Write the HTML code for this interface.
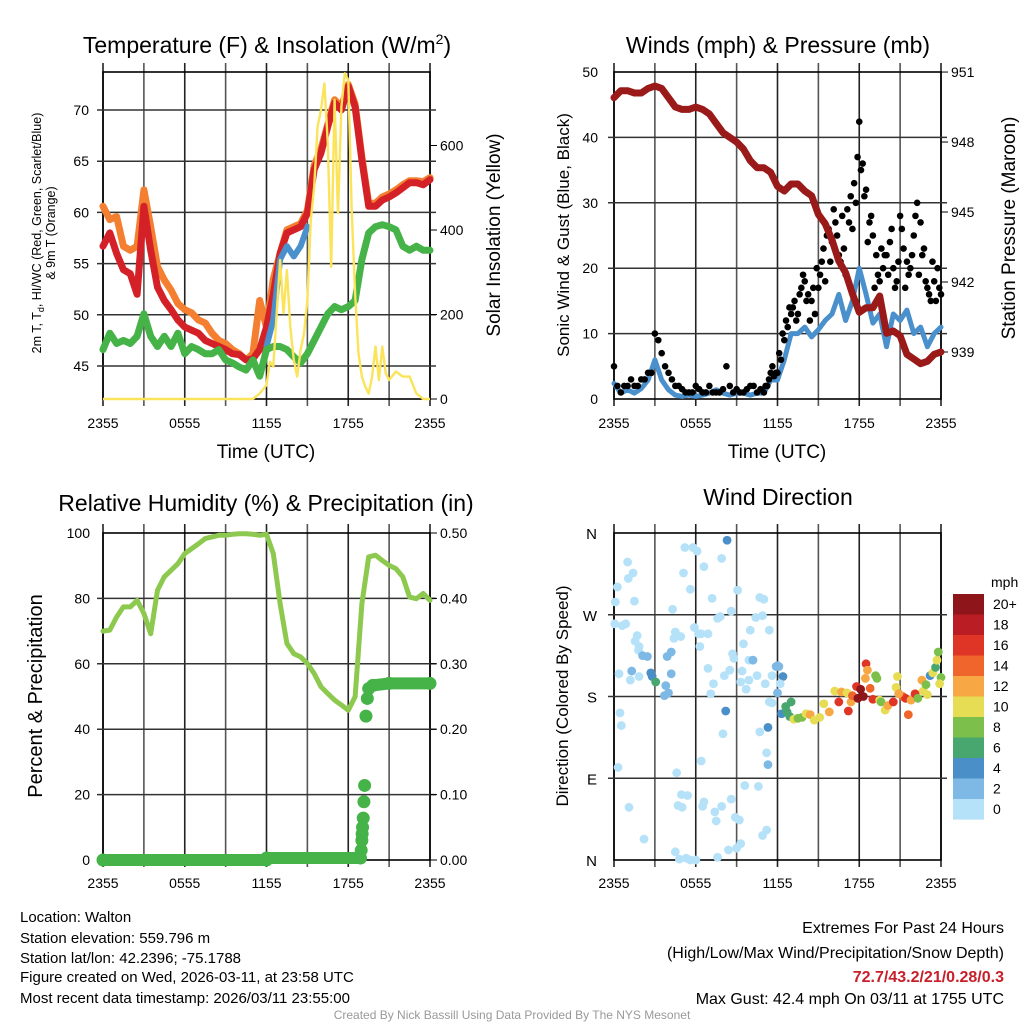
<!DOCTYPE html>
<html><head><meta charset="utf-8"><title>Walton Mesonet</title>
<style>
html,body{margin:0;padding:0;background:#fff;}
svg{display:block;font-family:"Liberation Sans",Arial,sans-serif;}
</style></head>
<body>
<svg id="fig" width="1024" height="1024" viewBox="0 0 1024 1024" xmlns="http://www.w3.org/2000/svg">
<rect width="1024" height="1024" fill="#fff"/>
<text x="267" y="53" font-size="23" text-anchor="middle">Temperature (F) &amp; Insolation (W/m<tspan dy="-9" font-size="14">2</tspan><tspan dy="9">)</tspan></text>
<text x="778" y="53" font-size="23" text-anchor="middle">Winds (mph) &amp; Pressure (mb)</text>
<text x="266" y="511" font-size="23" text-anchor="middle">Relative Humidity (%) &amp; Precipitation (in)</text>
<text x="778" y="505" font-size="23" text-anchor="middle">Wind Direction</text>
<text x="266" y="458" font-size="19" text-anchor="middle">Time (UTC)</text>
<text x="777" y="458" font-size="19" text-anchor="middle">Time (UTC)</text>
<text transform="translate(41,233) rotate(-90)" font-size="12.5" text-anchor="middle">2m T, T<tspan dy="3" font-size="9">d</tspan><tspan dy="-3">, HI/WC (Red, Green, Scarlet/Blue)</tspan></text>
<text transform="translate(55,233) rotate(-90)" font-size="12.5" text-anchor="middle">&amp; 9m T (Orange)</text>
<text transform="translate(500,235) rotate(-90)" font-size="19" text-anchor="middle">Solar Insolation (Yellow)</text>
<text transform="translate(569,235) rotate(-90)" font-size="17" text-anchor="middle">Sonic Wind &amp; Gust (Blue, Black)</text>
<text transform="translate(1015,228) rotate(-90)" font-size="19" text-anchor="middle">Station Pressure (Maroon)</text>
<text transform="translate(42,696) rotate(-90)" font-size="20" text-anchor="middle">Percent &amp; Precipitation</text>
<text transform="translate(568,696) rotate(-90)" font-size="17" text-anchor="middle">Direction (Colored By Speed)</text>
<g font-size="15">
<text x="20" y="922">Location: Walton</text>
<text x="20" y="943">Station elevation: 559.796 m</text>
<text x="20" y="963">Station lat/lon: 42.2396; -75.1788</text>
<text x="20" y="982">Figure created on Wed, 2026-03-11, at 23:58 UTC</text>
<text x="20" y="1003">Most recent data timestamp: 2026/03/11 23:55:00</text>
</g>
<g font-size="16" text-anchor="end">
<text x="1004" y="933">Extremes For Past 24 Hours</text>
<text x="1004" y="958">(High/Low/Max Wind/Precipitation/Snow Depth)</text>
<text x="1004" y="982" fill="#c8202a" font-weight="bold">72.7/43.2/21/0.28/0.3</text>
<text x="1004" y="1004">Max Gust: 42.4 mph On 03/11 at 1755 UTC</text>
</g>
<text x="512" y="1019" font-size="12" fill="#999" text-anchor="middle">Created By Nick Bassill Using Data Provided By The NYS Mesonet</text>
<g id="layer"></g>
</svg>
<script>
// ---------- data ----------
const timeTickLabels = ["2355","0555","1155","1755","2355"];
const tempTickLabels = [45,50,55,60,65,70];
const solarTickLabels = [0,200,400,600];
const windTickLabels = [0,10,20,30,40,50];
const pressTickLabels = [939,942,945,948,951];
const rhTickLabels = [0,20,40,60,80,100];
const precipTickLabels = ["0.00","0.10","0.20","0.30","0.40","0.50"];
const dirTickLabels = ["N","E","S","W","N"];
const speedBinLabels = ["20+","18","16","14","12","10","8","6","4","2","0"];
const speedBinColors = ["#8e1519","#bb1d24","#df3527","#f0652c","#f7a844","#e7dd55","#7cc04b","#48a66f","#4a8fc7","#7db9e4","#b5e2f8"];

const temp2m = [56.7,58,56,54.4,54,52,60.6,56.3,52.7,51.4,50.5,49.5,48.8,48.5,48.2,47.5,47.2,46.9,46.6,46.2,46.1,45.6,45.7,46.6,48.8,52,56,58,58.3,58.6,59.9,64.2,65.8,68.4,70.7,70,72.3,70.3,65.1,60.6,60.6,61.2,61.5,61.9,62.4,62.9,62.9,62.7,63.2];
const temp9m = [60.6,59.3,59.6,56.7,56.3,56.7,62.2,58.6,54.7,53.4,52.4,51.1,50.5,50.2,49.5,49.2,48.2,47.5,47.2,46.6,46.2,45.6,46.2,51.4,48.8,53.5,56,58.3,58.6,58.9,60.2,64.6,66.2,68.6,71,70.3,72.5,70.6,65.4,60.9,60.9,61.5,61.8,62.2,62.7,63.1,63.1,63,63.4];
const dewpoint = [46.6,48.2,47.2,47.5,47.2,47.9,50.1,47.9,46.9,47.9,46.9,48.2,46.2,46.9,46.6,46.2,46.2,46.6,45.6,45.3,44.9,44.6,45.6,44,46.6,46.9,46.9,46.6,45.9,45.3,46.2,47.5,48.8,50.1,50.8,50.5,50.8,51.4,55.4,58,58.6,58.8,58.6,58.3,56.7,56.3,56.7,56.3,56.3];
const heatIndexStart = 12;
const heatIndex = [46.9,49.5,55.4,56.7,55.7,56.7,58.6];
const solarHours = [0,11,11.5,12,12.25,12.5,12.75,13,13.25,13.5,13.75,14,14.25,14.5,14.75,15,15.25,15.5,15.75,16,16.25,16.5,16.75,17,17.25,17.5,17.75,18,18.25,18.5,18.75,19,19.25,19.5,19.75,20,20.25,20.5,20.75,21,21.5,22,22.5,23,23.5,24];
const solarVals = [0,0,13,33,88,77,203,329,203,305,171,92,53,116,155,234,424,503,645,684,747,605,313,708,440,692,771,755,447,250,108,53,29,13,53,124,45,124,61,45,65,53,53,13,0,0];
const pressure = [949.9,950.2,950.2,950.1,950.1,950.3,950.4,950.3,949.9,949.5,949.4,949.4,949.5,949.4,949.2,948.8,948.4,948.2,948,947.7,947.2,946.9,946.9,946.7,946.1,945.9,946.2,946.2,945.9,945.7,944.9,944.5,943.8,942.9,942.4,941.5,940.7,940.9,940.9,941.4,939.8,939.9,939.7,938.9,938.7,938.5,938.6,938.9,939];
const sonicWind = [2.4,0.9,1.4,0.9,1.6,2.9,6,2.9,1.4,0.6,0.4,0.6,0.4,0.6,0.9,1.4,0.9,0.6,0.9,0.9,0.6,0.9,0.9,2.9,2.9,6,10,10,11,9.5,10.6,12,13,16,12,15,20,16,11.6,13,8,13,12,13.6,10,11,8,10,11];
const gusts = [5,2,1,2,2,3,2,2,3,3,4,4, 10,9,7,5,4,3,2,2,1.5,1,1,1, 2,1.5,1,1,2,1,1,1,1.5,5,2,1, 1.5,1,1,1.5,2,2,1,1.5,1,2,4,3.5, 4,6,9,11,13,15,13,17,18,16,15,13, 17,21,18,26,24,27,22,28,19,27,26,30, 42.4,36,32,27,25,22,18,20,22,24,20,18, 28,23,21,20,25,30,27,23,17,15,18,20, 16];
const gustsOffsetStart = 11.125;
const gustsOffset = [2,3,5,4, 7,10,12,14, 14,12,16,19, 15,12,17,20, 19,23,25,21, 29,25,21,23, 29,31,33,37, 35,31,24,28, 17,19,23,22, 19,26,17,21, 26,17,19,22, 28,19,22,18, 16,21,15,17];
const humidity = [70,70.3,74.3,77.4,77.4,79.4,75.4,69.2,82.5,86.6,88.6,90.6,93.7,95.2,96.7,98.3,98.8,99.3,99.3,99.6,99.8,99.8,99.6,99.3,99.6,93.7,78.4,66.2,63.1,62.1,60.1,57,53,50.9,48.9,47.4,45.8,49.9,78.4,92.7,93.2,91.6,90.1,89.1,86.6,80.4,79.9,81.5,79.4];
const precipHours = [0,12,12,18.9,18.95,19.0,19.02,19.05,19.1,19.15,19.2,19.3,19.4,19.5,19.8,21,24];
const precipVals = [0,0,0.003,0.003,0.015,0.03,0.04,0.05,0.064,0.089,0.114,0.22,0.247,0.262,0.267,0.27,0.27];
const dirHours = [0.25,0.1,0.05,1,1.05,1.4,1.5,0.6,0.86,1.7,1.55,1.84,1.8,0.37,1.2,1.84,2.1,2.45,1.3,2.7,2.8,3.06,3.8,3.7,4,4.2,4.2,3.9,0.44,0.54,0.3,1.1,2.2,4.3,4.5,4.4,4.9,5.1,5.2,5.8,6.1,5.6,6.6,7.2,5.9,6.2,6.4,6.9,6.3,6.9,7.3,7.1,7.6,7.8,7.9,8.3,8.6,8.7,8.8,9.07,8.1,8.5,9.4,9.3,9.7,9.9,9.9,9.5,10,10.2,10.5,10.7,11,10.9,10.4,11.4,11.1,11.6,11.9,12,12.1,12.4,12,12.2,11.4,11.6,8.2,8,10.7,11.2,11.3,11.3,6.4,4.6,4.95,5.4,4.7,5,6.6,6.5,7.4,7.5,7.9,8.6,8.9,9.2,9.6,10.6,10.9,11.2,9.3,9,8.4,7.6,4.5,4.8,5.3,5.6,6,
 12.3,12.6,12.7,12.9,13,13.2,13.5,13.8,14.1,14.4,14.7,15.1,15.4,15.8,16.2,16.5,16.7,17.1,17.2,17.4,17.5,17.8,17.9,18.1,18.3,18.5,18.6,18.45,18.8,19,19.2,19.5,19.3,19.6,19.9,20.1,20.5,20.8,20.9,20.7,21.2,21.4,21.6,21.8,22.1,22.3,22.6,22.7,22.9,23,23.2,23.4,23.6,23.7,23.8,24,23.9,20.9];
const dirDeg = [300.6,284,260,328,310,316,285,258,260,247,241,235,231,205,198,202,225,224,208,206,202,196,192,181,184,205,229,224,162,148,102,58,23,276,251,244,246,316,344,344,340,298,323,288,256,249,249,249,235,211,194,183,266,268,332,352,274,227,222,297,203,209,208,196,188,198,220,238,253,220,203,289,287,269,267,253,194,203,213,214,213,202,184,194,174,173,164,139,141,118,146,105,109,96,72,71,60,58,64,59,53,43,59,67,47,44,82,81,27,33,18,13,11,3,9,1,2,0,0,
 161,169,163,158,174,155,156,157,161,160,154,157,172,163,186,174,185,184,164,174,181,191,178,188,180,216,209,200,189,177,203,176,200,174,165,170,174,202,183,190,180,178,160,176,183,178,198,186,193,182,203,206,212,220,229,201,194,183];
const dirSpeed = [1,1,1,1,1,1,1,1,1,1,1,1,1,1,1,1,3,3,3,4,5,6,3,3,2,3,3,2,1,1,1,1,1,1,1,1,1,1,1,1,1,1,1,1,1,1,1,1,1,1,1,1,1,1,1,4,1,1,1,1,1,1,1,1,1,1,1,1,1,3,1,1,1,1,1,1,1,1,3,3,3,4,3,1,1,1,4,1,1,1,4,3,1,1,1,1,1,1,1,1,1,1,1,1,1,1,1,1,1,1,1,1,1,1,1,1,1,1,1,
 5,7,7,7,7,10,9,8,10,13,10,10,10,13,11,16,13,10,17,13,15,17,21,21,20,16,13,13,15,17,9,11,9,8,11,12,16,11,7,11,14,16,15,12,16,9,12,11,8,10,5,10,7,10,8,9,10,13];

// ---------- helpers ----------
const NS = "http://www.w3.org/2000/svg";
const layer = document.getElementById("layer");
function mk(tag, attrs, parent){ const e=document.createElementNS(NS,tag); for(const k in attrs) e.setAttribute(k,attrs[k]); (parent||layer).appendChild(e); return e; }
function grp(name){ const g=mk("g",{}); 

return g; }

const W = 327;
function xA(h){ return 103 + h*W/24; }
function xB(h){ return 614 + h*W/24; }
const yT = t => 366 - (t-45)*10.24;
const yS = w => 399 - w*0.4225;
const yW = m => 399 - m*6.54;
const yP = p => 352 - (p-939)*23.33;
const yR = r => 860 - r*3.27;
const yPr = p => 860 - p*654;
const yD = d => 860 - d*327/360;

function speedColor(s){ if(s>=20) return speedBinColors[0]; const i = 10 - Math.floor(s/2); return speedBinColors[Math.max(0,Math.min(10,i))]; }

function frame(name, x0, y0, x1, y1){
  const g = grp(name);
  for(let k=0;k<=8;k++){
    const x = x0 + k*(x1-x0)/8;
    mk("line",{x1:x,y1:y0-9,x2:x,y2:y1+7,stroke:k%2? "#555":"#222","stroke-width":1.6},g);
  }
  mk("rect",{x:x0,y:y0,width:x1-x0,height:y1-y0,fill:"none",stroke:"#000","stroke-width":1.6},g);
  return g;
}
function hgrid(g, x0, x1, ys){ ys.forEach(y=>mk("line",{x1:x0-6,y1:y,x2:x1+6,y2:y,stroke:"#333","stroke-width":1.5},g)); }
function xLabels(xf, y, name){
  const g = grp(name);
  timeTickLabels.forEach((l,i)=>{ const t=mk("text",{x:xf(i*6),y:y,"font-size":14,"text-anchor":"middle"},g); t.textContent=l; });
}
function pathFrom(xs, ys){ return xs.map((x,i)=>(i?"L":"M")+x.toFixed(1)+","+ys[i].toFixed(1)).join(""); }
function series(name, vals, start, step, xf, yf, color, w){
  const p = mk("path",{d:pathFrom(vals.map((v,i)=>xf(start+i*step)), vals.map(v=>yf(v))),fill:"none",stroke:color,"stroke-width":w,"stroke-linejoin":"round","stroke-linecap":"round"});
  
  
  return p;
}

// ---------- panel 1 ----------
const g1 = frame("temperature-plot-area", 103, 72, 430, 399);
hgrid(g1, 103, 430, tempTickLabels.map(yT));
const g1t = grp("temperature-y-ticks");
tempTickLabels.forEach(v=>{ const t=mk("text",{x:89,y:yT(v)+5,"font-size":14,"text-anchor":"end"},g1t); t.textContent=v; });
const g1s = grp("insolation-y-ticks");
solarTickLabels.forEach(v=>{ mk("line",{x1:430,y1:yS(v),x2:437,y2:yS(v),stroke:"#000"},g1s); const t=mk("text",{x:440,y:yS(v)+5,"font-size":14},g1s); t.textContent=v; });
xLabels(xA, 428, "temperature-x-ticks");
series("temp-9m-line", temp9m, 0, 0.5, xA, yT, "#f47f30", 7);
series("temp-2m-line", temp2m, 0, 0.5, xA, yT, "#d42127", 7);
series("heat-index-line", heatIndex, heatIndexStart, 0.5, xA, yT, "#4a90cc", 6);
series("dewpoint-line", dewpoint, 0, 0.5, xA, yT, "#45b348", 7);
const sol = mk("path",{d:pathFrom(solarHours.map(xA), solarVals.map(yS)),fill:"none",stroke:"#fbe35a","stroke-width":2.4,"stroke-linejoin":"round"});



// ---------- panel 2 ----------
const g2 = frame("winds-plot-area", 614, 72, 941, 399);
hgrid(g2, 614, 941, windTickLabels.slice(1,5).map(yW));
const g2t = grp("wind-y-ticks");
windTickLabels.forEach(v=>{ const t=mk("text",{x:598,y:yW(v)+5,"font-size":14,"text-anchor":"end"},g2t); t.textContent=v; });
const g2p = grp("pressure-y-ticks");
pressTickLabels.forEach(v=>{ mk("line",{x1:941,y1:yP(v),x2:948,y2:yP(v),stroke:"#000"},g2p); const t=mk("text",{x:951,y:yP(v)+5,"font-size":14},g2p); t.textContent=v; });
xLabels(xB, 428, "winds-x-ticks");
series("sonic-wind-line", sonicWind, 0, 0.5, xB, yW, "#4a90cc", 5);
const gg = grp("gust-points");
gusts.forEach((v,i)=>{ const c=mk("circle",{cx:xB(i*0.25),cy:yW(v),r:3.3,fill:"#000"},gg);

 });
gustsOffset.forEach((v,i)=>{ const c=mk("circle",{cx:xB(gustsOffsetStart+i*0.25),cy:yW(v),r:3.3,fill:"#000"},gg);

 });
series("pressure-line", pressure, 0, 0.5, xB, yP, "#9a1a1a", 7);

// ---------- panel 3 ----------
const g3 = frame("humidity-plot-area", 103, 533, 430, 860);
hgrid(g3, 103, 430, rhTickLabels.slice(1,5).map(yR));
const g3t = grp("humidity-y-ticks");
rhTickLabels.forEach(v=>{ const t=mk("text",{x:90,y:yR(v)+5,"font-size":14,"text-anchor":"end"},g3t); t.textContent=v; });
const g3p = grp("precip-y-ticks");
precipTickLabels.forEach(v=>{ const y=yPr(parseFloat(v)); mk("line",{x1:430,y1:y,x2:437,y2:y,stroke:"#000"},g3p); const t=mk("text",{x:440,y:y+5,"font-size":14},g3p); t.textContent=v; });
xLabels(xA, 888, "humidity-x-ticks");
series("humidity-line", humidity, 0, 0.5, xA, yR, "#8dc94e", 5);
const gpd = grp("precip-points");
for(let i=1;i<precipVals.length;i++){
  if(Math.abs(precipVals[i]-precipVals[i-1])<0.006){
    const s = mk("line",{x1:xA(precipHours[i-1]),y1:yPr(precipVals[i-1]),x2:xA(precipHours[i]),y2:yPr(precipVals[i]),stroke:"#45b348","stroke-width":12,"stroke-linecap":"round"},gpd);
    
    
  }
}
precipVals.forEach((v,i)=>{ const c=mk("circle",{cx:xA(precipHours[i]),cy:yPr(v),r:6.5,fill:"#45b348"},gpd);

 });

// ---------- panel 4 ----------
const g4 = frame("direction-plot-area", 614, 533, 941, 860);
hgrid(g4, 614, 941, [90,180,270].map(yD));
const g4t = grp("direction-y-ticks");
dirTickLabels.forEach((l,i)=>{ const t=mk("text",{x:597,y:yD(i*90)+6,"font-size":15,"text-anchor":"end"},g4t); t.textContent=l; });
xLabels(xB, 888, "direction-x-ticks");
const gdp = grp("direction-points");
dirDeg.forEach((d,i)=>{ const c=mk("circle",{cx:xB(dirHours[i]),cy:yD(d),r:4.4,fill:speedColor(dirSpeed[i])},gdp);

 });

const gcb = grp("speed-colorbar");
const mphT = mk("text",{x:991,y:587,"font-size":14},gcb); mphT.textContent="mph";
speedBinColors.forEach((c,i)=>{
  const r = mk("rect",{x:953,y:594+i*20.5,width:31,height:20.6,fill:c},gcb);
  
  
  const t = mk("text",{x:993,y:594+i*20.5+15,"font-size":14},gcb); t.textContent=speedBinLabels[i];
});
</script>
</body></html>
